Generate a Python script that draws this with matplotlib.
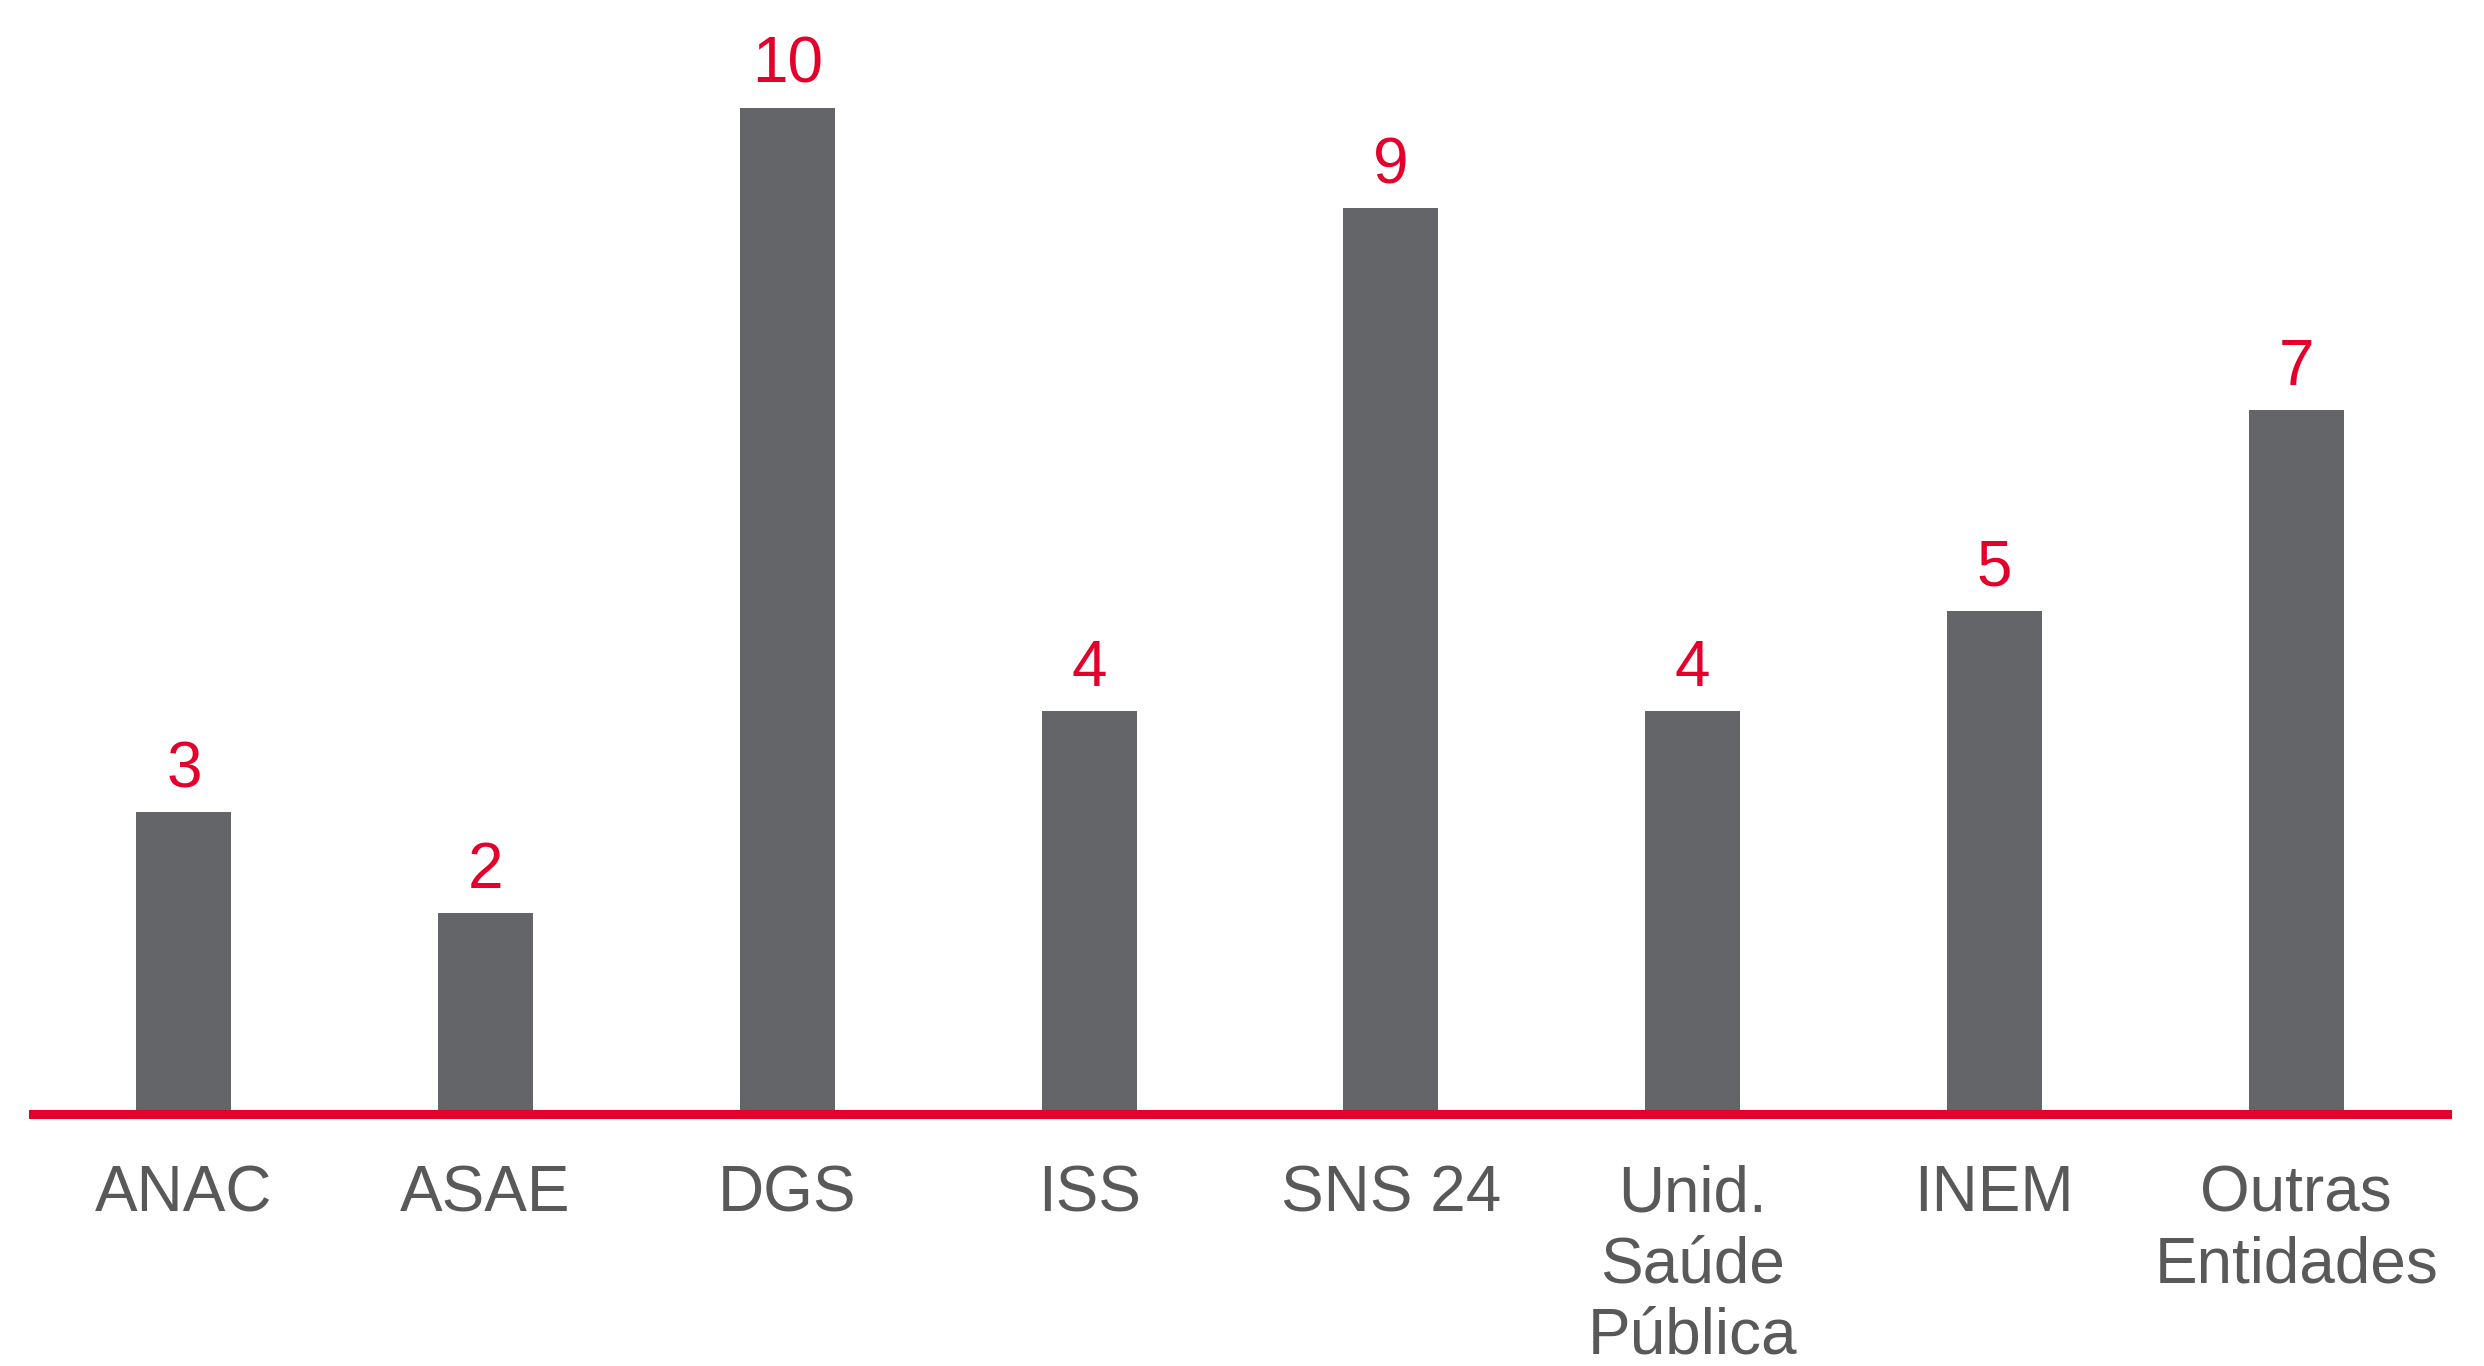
import matplotlib.pyplot as plt

plt.rcParams["font.family"] = ["Liberation Sans", "DejaVu Sans"]

categories = ["ANAC", "ASAE", "DGS", "ISS", "SNS 24", "Unid.\nSaúde\nPública", "INEM", "Outras\nEntidades"]
values = [3, 2, 10, 4, 9, 4, 5, 7]

bar_color = "#636569"
red = "#E4002B"
grey_text = "#595959"

fig = plt.figure(figsize=(24.84, 13.66), dpi=100)
ax = fig.add_axes([33 / 2484, (1366 - 1114) / 1366, (2447 - 33) / 2484, 1114 / 1366])

x = list(range(len(categories)))
ax.bar(x, values, width=0.315, color=bar_color, zorder=2)

for xi, v in zip(x, values):
    ax.annotate(str(v), (xi, v), xytext=(0, 18), textcoords="offset points",
                ha="center", va="baseline", fontsize=46, color=red)

ax.set_xlim(-0.5, 7.5)
ax.set_ylim(0, 11.07)
ax.set_xticks(x)
ax.set_xticklabels(categories, fontsize=46, color=grey_text, linespacing=1.24)
ax.tick_params(axis="x", length=0, pad=36)
ax.set_yticks([])

for side in ["top", "left", "right"]:
    ax.spines[side].set_visible(False)
ax.spines["bottom"].set_color(red)
ax.spines["bottom"].set_linewidth(6.5)
ax.spines["bottom"].set_zorder(3)

fig.savefig("out.png", dpi=100)
